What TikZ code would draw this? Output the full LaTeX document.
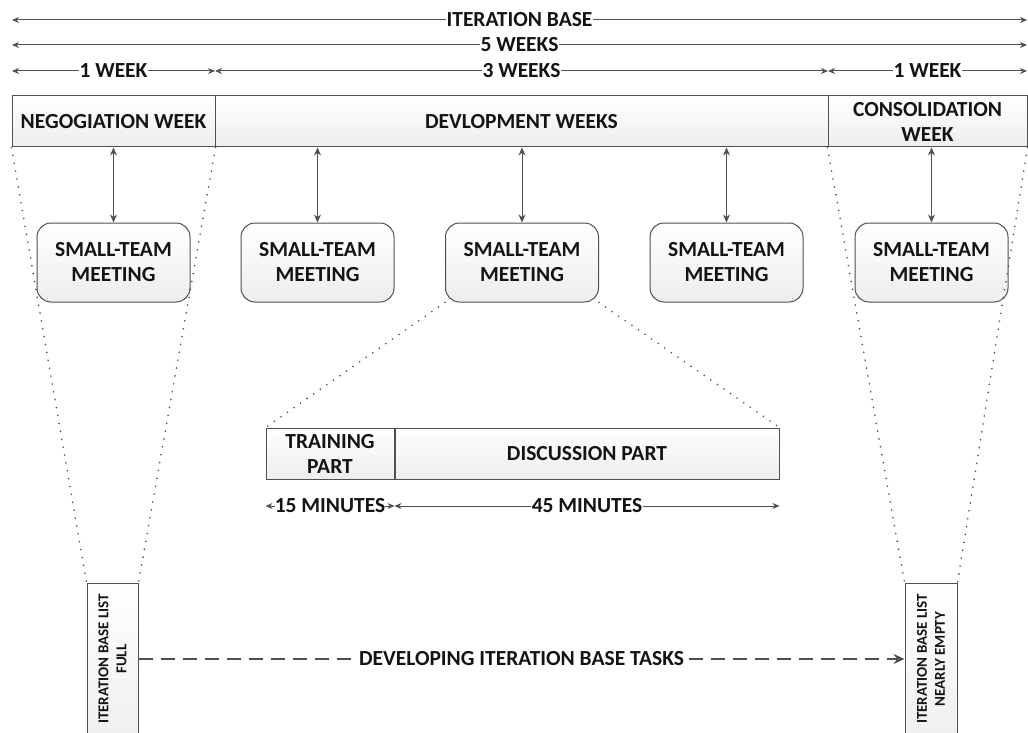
\documentclass[tikz,border=0pt]{standalone}
\usepackage{fontspec}
\setmainfont{Carlito}
\usetikzlibrary{arrows.meta}
\definecolor{ink}{HTML}{141414}
\definecolor{rule}{HTML}{505050}
\begin{document}
\begin{tikzpicture}[x=1pt,y=-1pt,
  font=\bfseries\fontsize{21.5}{25}\selectfont, text=ink,
  dim/.style={draw=rule, line width=1pt, {Stealth[length=7pt,width=6pt]}-{Stealth[length=7pt,width=6pt]}},
  dimlbl/.style={fill=white, inner sep=1pt, text=ink},
  barbox/.style={draw=rule, line width=1pt, top color=white, bottom color=gray!14,
    minimum height=51pt, inner sep=0pt, align=center},
  meet/.style={draw=rule, line width=1pt, rounded corners=14pt, top color=white,
    bottom color=gray!14, minimum width=153pt, minimum height=79pt, align=center,
    inner sep=0pt},
  listbox/.style={draw=rule, line width=1pt, top color=white, bottom color=gray!12,
    minimum height=152pt, inner sep=0pt},
  listtxt/.style={rotate=90, align=center, font=\bfseries\fontsize{15}{18}\selectfont},
  vlink/.style={draw=rule, line width=1pt, {Stealth[length=8pt,width=7pt]}-{Stealth[length=8pt,width=7pt]}},
  fan/.style={draw=rule, line width=1.8pt, line cap=round, dash pattern=on 0pt off 8pt},
  flow/.style={draw=rule, line width=1.5pt, dash pattern=on 14pt off 8pt, -{Stealth[length=11pt,width=10pt]}}
]
\useasboundingbox (0,0) rectangle (1028,733);
\clip (0,0) rectangle (1028,733);

% duration rulers along the top
\coordinate (ibL) at (12,20);   \coordinate (ibR) at (1027,20);
\coordinate (fwL) at (12,45);   \coordinate (fwR) at (1027,45);
\coordinate (w1L) at (12,71);   \coordinate (w1R) at (215,71);
\coordinate (w3L) at (215,71);  \coordinate (w3R) at (828,71);
\coordinate (w5L) at (828,71);  \coordinate (w5R) at (1027,71);
\draw[dim] (ibL) -- node[dimlbl] {ITERATION BASE} (ibR);
\draw[dim] (fwL) -- node[dimlbl] {5 WEEKS} (fwR);
\draw[dim] (w1L) -- node[dimlbl] {1 WEEK} (w1R);
\draw[dim] (w3L) -- node[dimlbl] {3 WEEKS} (w3R);
\draw[dim] (w5L) -- node[dimlbl] {1 WEEK} (w5R);

% week bar
\node[barbox, minimum width=203pt] (neg) at (113.5,121.5) {NEGOGIATION WEEK};
\node[barbox, minimum width=613pt] (dev) at (521.5,121.5) {DEVLOPMENT WEEKS};
\node[barbox, minimum width=199pt] (con) at (927.5,121.5) {CONSOLIDATION\\WEEK};

% small-team meetings
\node[meet] (m1) at (113.5,262.5) {SMALL-TEAM\\MEETING};
\node[meet] (m2) at (317.5,262.5) {SMALL-TEAM\\MEETING};
\node[meet] (m3) at (522,262.5)   {SMALL-TEAM\\MEETING};
\node[meet] (m4) at (726.5,262.5) {SMALL-TEAM\\MEETING};
\node[meet] (m5) at (931.5,262.5) {SMALL-TEAM\\MEETING};

\draw[vlink] (neg.south -| m1.north) -- (m1.north);
\draw[vlink] (dev.south -| m2.north) -- (m2.north);
\draw[vlink] (dev.south -| m3.north) -- (m3.north);
\draw[vlink] (dev.south -| m4.north) -- (m4.north);
\draw[vlink] (con.south -| m5.north) -- (m5.north);

% meeting breakdown
\node[barbox, minimum width=128pt] (train) at (330,453.5) {TRAINING\\PART};
\node[barbox, minimum width=384pt, anchor=west] (disc) at (train.east) {DISCUSSION PART};
\draw[fan] (m3.south west) -- (train.north west);
\draw[fan] (m3.south east) -- (disc.north east);

\coordinate (t15L) at (train.west |- 0,506);
\coordinate (t15R) at (train.east |- 0,506);
\coordinate (t45R) at (disc.east |- 0,506);
\draw[dim] (t15L) -- node[dimlbl, inner sep=0pt] {15 MINUTES} (t15R);
\draw[dim] (t15R) -- node[dimlbl] {45 MINUTES} (t45R);

% iteration base lists
\node[listbox, minimum width=51pt] (full) at (112.5,659) {};
\node[listtxt] at (full.center) {ITERATION BASE LIST\\FULL};
\node[listbox, minimum width=52pt] (empty) at (931,659) {};
\node[listtxt] at (empty.center) {ITERATION BASE LIST\\NEARLY EMPTY};

\draw[fan] (neg.south west) -- (full.north west);
\draw[fan] (neg.south east) -- (full.north east);
\draw[fan] (con.south west) -- (empty.north west);
\draw[fan] (con.south east) -- (empty.north east);

\draw[flow] (full.east) -- node[fill=white, inner sep=1pt] {DEVELOPING ITERATION BASE TASKS} (empty.west);
\end{tikzpicture}
\end{document}
